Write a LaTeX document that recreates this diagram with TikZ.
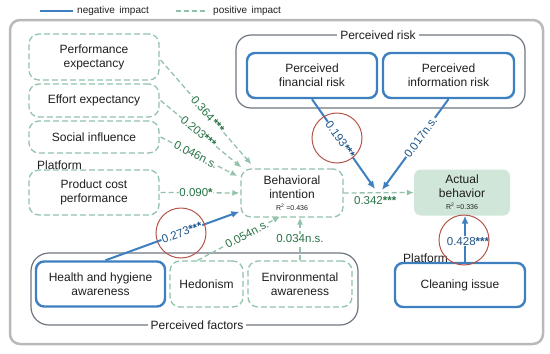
\documentclass[tikz,border=0pt]{standalone}
\usepackage{fontspec}
\setmainfont{Liberation Sans}
\usetikzlibrary{arrows.meta,calc}
\definecolor{bluel}{RGB}{61,127,191}
\definecolor{bluet}{RGB}{30,85,135}
\definecolor{greend}{RGB}{147,194,170}
\definecolor{greent}{RGB}{40,115,70}
\definecolor{grayg}{RGB}{110,118,128}
\definecolor{framec}{RGB}{185,185,185}
\definecolor{redc}{RGB}{180,85,75}
\definecolor{abfill}{RGB}{207,230,216}
\definecolor{txt}{RGB}{30,30,30}
\newcommand{\stars}[1]{{\bfseries #1}}
\begin{document}
\begin{tikzpicture}[x=1pt,y=-1pt,
  every node/.style={text=txt},
  boxfont/.style={font=\fontsize{12}{14}\selectfont},
  posbox/.style={draw=greend, dash pattern=on 6pt off 3pt, line width=1.3pt, rounded corners=10pt, align=center, boxfont, inner sep=0pt},
  negbox/.style={draw=bluel, line width=2.4pt, rounded corners=8pt, align=center, boxfont, inner sep=0pt},
  grp/.style={draw=grayg, line width=1.2pt, rounded corners=15pt},
  grptitle/.style={fill=white, boxfont, inner sep=3pt},
  posarr/.style={draw=greend, line width=1.3pt, dash pattern=on 5pt off 3pt, -{Latex[length=7pt,width=6pt]}},
  negarr/.style={draw=bluel, line width=2pt, -{Latex[length=8pt,width=7pt]}},
  poslab/.style={text=greent, fill=white, inner sep=0.5pt, font=\fontsize{11.5}{12}\selectfont},
  neglab/.style={text=bluet, fill=white, inner sep=0.5pt, font=\fontsize{11.5}{12}\selectfont},
  ring/.style={draw=redc, line width=1pt, circle, minimum size=50pt, inner sep=0pt},
]
\useasboundingbox (0,0) rectangle (550,354);

% legend
\coordinate (l1a) at (40,11); \coordinate (l1b) at (73,11);
\draw[bluel, line width=2.5pt] (l1a) -- (l1b);
\node[anchor=west, font=\fontsize{10}{12}\selectfont, inner sep=0pt] (lneg) at (77,11) {negative\, impact};
\coordinate (l2a) at (176,11); \coordinate (l2b) at (208,11);
\draw[greend, line width=1.3pt, dash pattern=on 5pt off 3pt] (l2a) -- (l2b);
\node[anchor=west, font=\fontsize{10}{12}\selectfont, inner sep=0pt] (lpos) at (213,11) {positive\, impact};

% outer frame
\draw[framec, line width=2.5pt, rounded corners=10pt] (10,20) rectangle (543,344);

% groups
\draw[grp] (236,35) rectangle (525,108);
\node[grptitle] (riskt) at (378,35) {Perceived risk};
\draw[grp, rounded corners=18pt] (31,253) rectangle (358,325);
\node[grptitle] (factt) at (197,325) {Perceived factors};

% left boxes
\node[posbox, minimum width=130pt, minimum height=46pt] (pe) at (94,57) {Performance\\expectancy};
\node[posbox, minimum width=130pt, minimum height=33pt] (ee) at (94,100.5) {Effort expectancy};
\node[posbox, minimum width=130pt, minimum height=32pt] (si) at (94,137) {Social influence};
\node[anchor=west, boxfont, inner sep=0pt] (plat1) at (37,165) {Platform};
\node[posbox, minimum width=130pt, minimum height=45pt] (pc) at (94,192.5) {Product cost\\performance};

% center
\node[posbox, minimum width=102pt, minimum height=48pt] (bi) at (292,193) {Behavioral\\intention\\[-2pt]{\fontsize{7}{8}\selectfont R\textsuperscript{2} =0.436}};
\node[fill=abfill, rounded corners=7pt, minimum width=96pt, minimum height=46pt, align=center, boxfont, inner sep=0pt] (ab) at (462,192.5) {Actual\\behavior\\[-2pt]{\fontsize{7}{8}\selectfont R\textsuperscript{2} =0.336}};

% risk boxes
\node[negbox, minimum width=130pt, minimum height=45pt] (pfr) at (312,75.5) {Perceived\\financial risk};
\node[negbox, minimum width=131pt, minimum height=45pt] (pir) at (448.5,75.5) {Perceived\\information risk};

% factors
\node[negbox, minimum width=129pt, minimum height=45pt] (hh) at (100.5,284) {Health and hygiene\\awareness};
\node[posbox, minimum width=73pt, minimum height=46pt] (hed) at (206.5,284) {Hedonism};
\node[posbox, minimum width=104pt, minimum height=46pt] (env) at (300,284) {Environmental\\awareness};

% cleaning
\node[negbox, minimum width=130pt, minimum height=44pt] (ci) at (460,285) {Cleaning issue};
\node[anchor=west, boxfont, inner sep=0pt] (plat2) at (403,258) {Platform};

% connectors
\draw[posarr] ($(pe.east)+(1,3)$) -- node[poslab, sloped, pos=0.52] {0.364\,\stars{***}} ($(bi.north west)+(11,-4)$);
\draw[posarr] ($(ee.east)+(1,0)$) -- node[poslab, sloped, pos=0.47] {0.203\stars{***}} ($(bi.north west)+(1,-1)$);
\draw[posarr] ($(si.east)+(1,0)$) -- node[poslab, sloped, pos=0.46] {0.046n.s.} ($(bi.west)+(-3,-17)$);
\draw[posarr] ($(pc.east)+(1,0)$) -- node[poslab, pos=0.45] {0.090\stars{*}} ($(bi.west)+(-1,0)$);
\draw[negarr] ($(hh.north)+(5,0)$) -- node[neglab, sloped, pos=0.57] {0.273\stars{***}} ($(bi.south west)+(-1,-6)$);
\draw[posarr] ($(hed.north)+(-9,0)$) -- node[poslab, sloped, pos=0.6] {0.054n.s.} ($(bi.south)+(-12,-1)$);
\draw[posarr] (env.north) -- node[poslab, pos=0.5] {0.034n.s.} (env.north |- bi.south);
\draw[posarr] (bi.east) -- node[text=greent, font=\fontsize{11.5}{12}\selectfont, inner sep=0.5pt, pos=0.45, below=3pt] {0.342\stars{***}} (ab.west);
\coordinate (j1) at (375,189);
\coordinate (j2) at (382,190);
\draw[negarr] (pfr.south) -- node[neglab, sloped, pos=0.45] {0.193\stars{***}} (j1);
\draw[negarr] (pir.south) -- node[neglab, sloped, pos=0.42] {0.017n.s.} (j2);
\draw[negarr] ($(ci.north)+(5,0)$) -- node[neglab, pos=0.45, xshift=3pt] {0.428\stars{***}} ($(ab.south)+(3,0)$);

% red rings
\node[ring] (r1) at (181,233) {};
\node[ring] (r2) at (337,138) {};
\node[ring] (r3) at (464,240) {};
\end{tikzpicture}
\end{document}
